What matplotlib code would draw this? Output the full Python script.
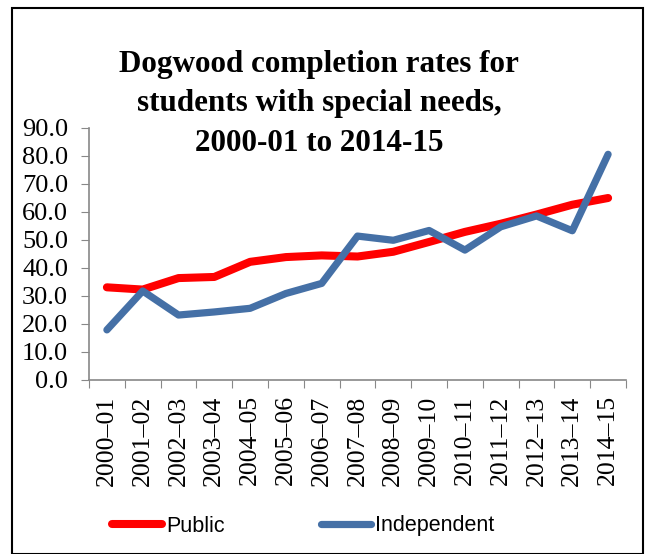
import matplotlib
matplotlib.use("Agg")
import matplotlib.pyplot as plt
from matplotlib.patches import Rectangle

years = ["2000\u201301", "2001\u201302", "2002\u201303", "2003\u201304", "2004\u201305",
         "2005\u201306", "2006\u201307", "2007\u201308", "2008\u201309", "2009\u201310",
         "2010\u201311", "2011\u201312", "2012\u201313", "2013\u201314", "2014\u201315"]
public = [33.1, 32.3, 36.4, 36.8, 42.2, 43.9, 44.5, 44.1, 45.8, 49.3, 52.9, 55.8, 59.1, 62.6, 65.0]
independent = [17.9, 31.8, 23.2, 24.3, 25.6, 30.9, 34.5, 51.4, 49.9, 53.4, 46.4, 54.7, 58.6, 53.3, 80.6]

W, H = 652, 554
fig = plt.figure(figsize=(W / 100, H / 100), dpi=100)
serif = "Liberation Serif"

left, right, top, bottom = 89, 626, 128, 380
ax = fig.add_axes([left / W, 1 - bottom / H, (right - left) / W, (bottom - top) / H])

x = list(range(len(years)))
ax.plot(x, public, color="#FF0000", lw=5.8, solid_capstyle="round", solid_joinstyle="round", label="Public", zorder=2)
ax.plot(x, independent, color="#4570A6", lw=5.2, solid_capstyle="round", solid_joinstyle="round", label="Independent", zorder=3)

ax.set_xlim(-0.5, len(years) - 0.5)
ax.set_ylim(0, 90)
ax.set_yticks(range(0, 91, 10))
ax.set_yticklabels([f"{v:.1f}" for v in range(0, 91, 10)], fontfamily=serif, fontsize=19)
ax.set_xticks([i - 0.5 for i in range(len(years) + 1)], minor=False)
ax.set_xticklabels([])
ax.set_xticks(x, minor=True)
ax.set_xticklabels(years, minor=True, rotation=90, fontfamily=serif, fontsize=18.5)
ax.tick_params(axis="x", which="minor", length=0, pad=11)
ax.tick_params(axis="x", which="major", length=6, direction="out", color="#888888")
ax.tick_params(axis="y", length=6, direction="out", color="#888888", pad=9)
for s in ["top", "right"]:
    ax.spines[s].set_visible(False)
for s in ["left", "bottom"]:
    ax.spines[s].set_color("#888888")
    ax.spines[s].set_linewidth(1.2)

fig.text(319 / W, 1 - 151 / H,
         "Dogwood completion rates for\nstudents with special needs,\n2000-01 to 2014-15",
         ha="center", va="baseline", fontfamily=serif, fontweight="bold", fontsize=22.4,
         linespacing=1.48, multialignment="center")

leg = fig.legend(loc="center left", bbox_to_anchor=(112 / W, 1 - 526 / H), ncol=2, frameon=False,
                 prop={"family": "Liberation Sans", "size": 15.5}, handlelength=2.3,
                 handletextpad=0.2, columnspacing=4.5, borderpad=0, borderaxespad=0)

fig.patches.append(Rectangle((12 / W, 0), (643 - 12) / W, 1 - 8 / H, transform=fig.transFigure,
                             fill=False, edgecolor="black", lw=1.5))

fig.savefig("out.png", dpi=100)
